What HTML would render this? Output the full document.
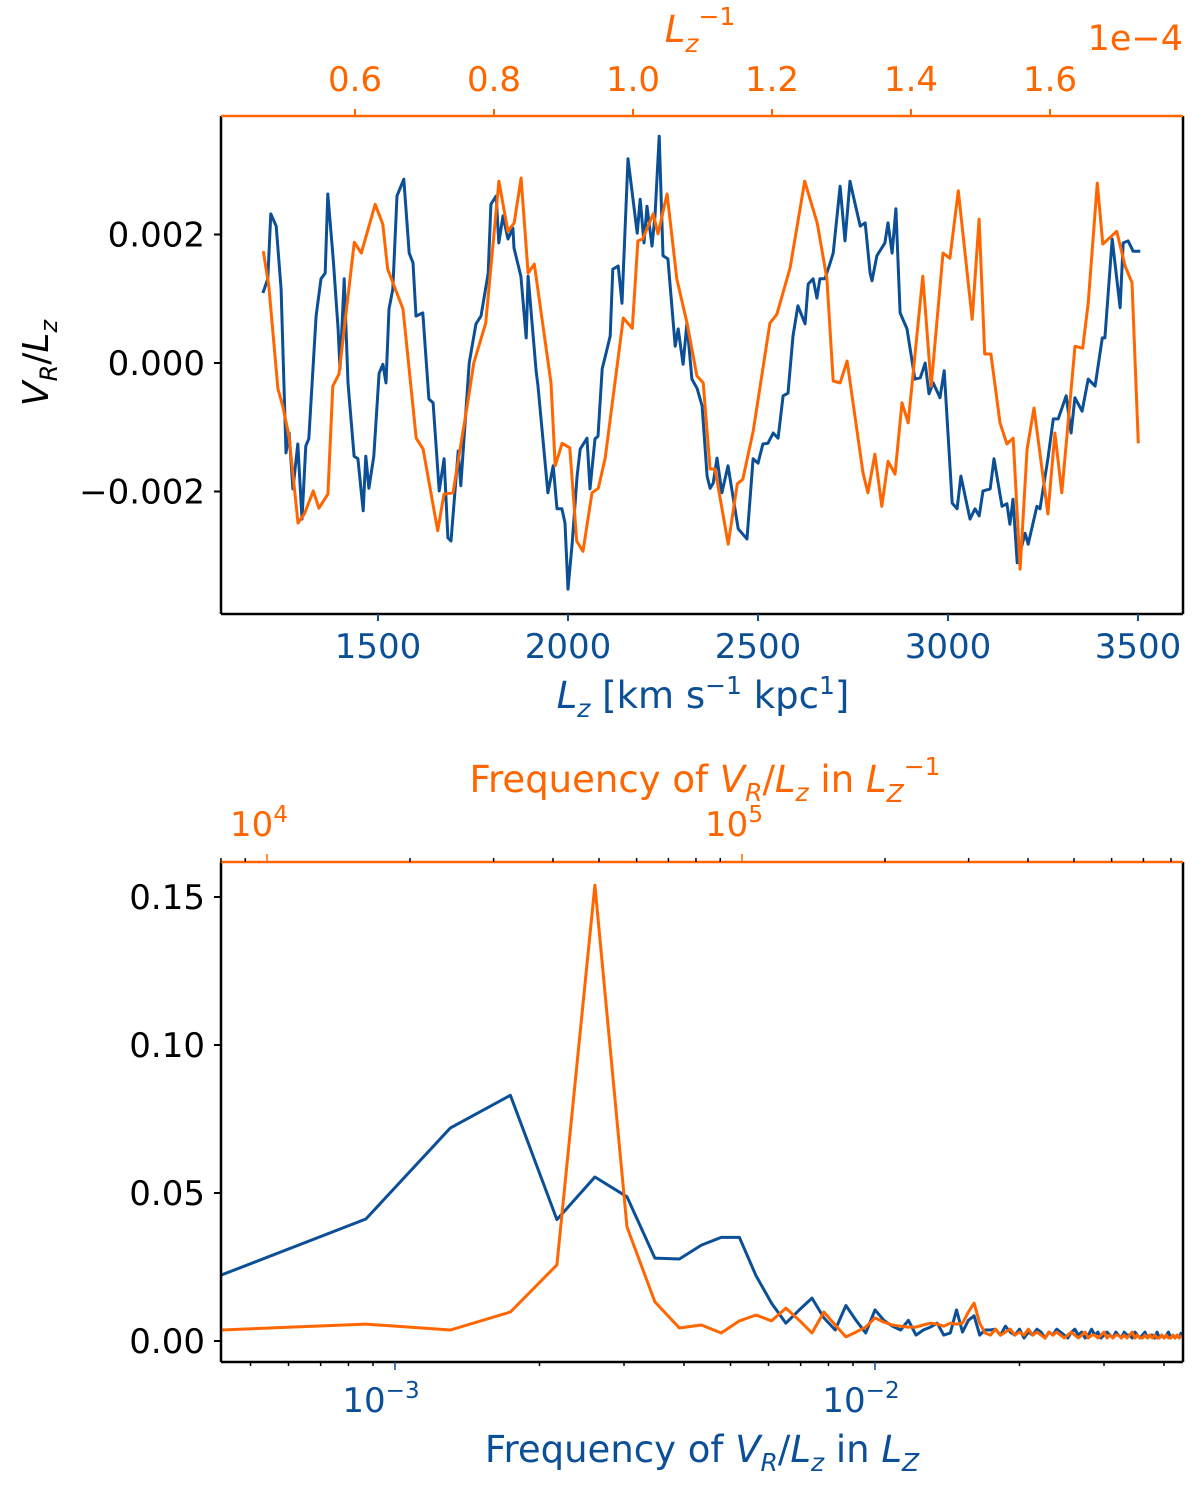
<!DOCTYPE html>
<html><head><meta charset="utf-8"><style>
body{margin:0;background:#fff;}
svg{display:block;font-family:"DejaVu Sans","Liberation Sans",sans-serif;}
</style></head><body>
<svg id="fig" width="1200" height="1491" viewBox="0 0 1200 1491" xmlns="http://www.w3.org/2000/svg">
<rect width="1200" height="1491" fill="#fff"/>
<g id="topPanel"></g>
<g id="botPanel"></g>
<text transform="translate(48,363) rotate(-90)" text-anchor="middle" font-size="36" fill="#000"><tspan font-style="italic">V</tspan><tspan font-style="italic" font-size="24" dy="9">R</tspan><tspan dy="-9">/</tspan><tspan font-style="italic">L</tspan><tspan font-style="italic" font-size="24" dy="9">z</tspan></text>
<text x="703" y="708" text-anchor="middle" font-size="37" fill="#0b4f96"><tspan font-style="italic">L</tspan><tspan font-style="italic" font-size="25" dy="9">z</tspan><tspan dy="-9"> [km s</tspan><tspan font-size="25" dy="-14">−1</tspan><tspan dy="14"> kpc</tspan><tspan font-size="25" dy="-14">1</tspan><tspan dy="14">]</tspan></text>
<text x="700" y="42" text-anchor="middle" font-size="37" fill="#ff6600"><tspan font-style="italic">L</tspan><tspan font-style="italic" font-size="25" dy="10">z</tspan><tspan font-size="25" dy="-27">−1</tspan></text>
<text x="1183" y="50" text-anchor="end" font-size="35" fill="#ff6600">1e−4</text>
<text x="705" y="792" text-anchor="middle" font-size="37" fill="#ff6600">Frequency of <tspan font-style="italic">V</tspan><tspan font-style="italic" font-size="25" dy="9">R</tspan><tspan dy="-9">/</tspan><tspan font-style="italic">L</tspan><tspan font-style="italic" font-size="25" dy="9">z</tspan><tspan dy="-9"> in </tspan><tspan font-style="italic">L</tspan><tspan font-style="italic" font-size="25" dy="10">Z</tspan><tspan font-size="25" dy="-27">−1</tspan></text>
<text x="702" y="1462" text-anchor="middle" font-size="37" fill="#0b4f96">Frequency of <tspan font-style="italic">V</tspan><tspan font-style="italic" font-size="25" dy="9">R</tspan><tspan dy="-9">/</tspan><tspan font-style="italic">L</tspan><tspan font-style="italic" font-size="25" dy="9">z</tspan><tspan dy="-9"> in </tspan><tspan font-style="italic">L</tspan><tspan font-style="italic" font-size="25" dy="9">Z</tspan></text>
</svg>
<script>
// ---------- TOP PANEL DATA ----------
const blueLz = [1197,1210,1218,1232,1245,1258,1266,1276,1289,1300,1310,1318,1337,1350,1361,1368,1382,1395,1400,1411,1421,1437,1447,1461,1468,1476,1489,1503,1513,1521,1529,1539,1550,1568,1582,1592,1600,1618,1634,1645,1661,1674,1684,1692,1711,1718,1740,1758,1771,1790,1797,1811,1818,1829,1842,1855,1858,1876,1890,1895,1916,1921,1947,1961,1971,1984,1992,2000,2011,2024,2032,2050,2058,2071,2079,2090,2103,2111,2118,2132,2142,2158,2182,2190,2200,2208,2221,2229,2240,2250,2263,2282,2290,2303,2313,2326,2340,2353,2366,2374,2382,2392,2405,2421,2434,2448,2471,2487,2500,2513,2526,2540,2553,2566,2579,2592,2605,2624,2632,2645,2655,2663,2676,2690,2698,2716,2729,2742,2755,2769,2782,2795,2800,2813,2834,2842,2853,2863,2874,2892,2913,2927,2940,2950,2961,2979,2990,3011,3024,3034,3058,3071,3082,3092,3111,3121,3142,3155,3163,3171,3182,3203,3211,3234,3242,3263,3277,3290,3311,3324,3334,3353,3369,3387,3406,3413,3432,3453,3461,3474,3487,3506];
const blueVR = [1.09,1.31,2.32,2.13,1.15,-1.40,-1.09,-1.96,-1.26,-2.43,-1.29,-1.18,0.73,1.31,1.40,2.63,1.62,0.53,-0.09,1.31,-0.31,-1.45,-1.49,-2.30,-1.45,-1.95,-1.45,-0.16,-0.02,-0.31,0.84,1.15,2.60,2.86,1.71,1.56,0.73,0.78,-0.56,-0.62,-1.99,-1.49,-2.72,-2.77,-1.37,-1.91,0,0.61,0.73,1.40,2.47,2.60,1.87,2.29,1.93,2.10,1.79,1.35,0.39,1.35,-0.12,-0.36,-2.02,-1.60,-2.27,-2.27,-2.49,-3.52,-2.80,-1.76,-1.34,-1.17,-1.96,-1.18,-1.14,-0.09,0.22,0.42,1.46,1.51,0.93,3.18,2.02,2.55,1.87,2.44,1.82,2.29,3.53,1.67,1.62,0.26,0.53,-0.02,0.62,-0.25,-0.40,-0.67,-1.76,-1.95,-1.87,-1.48,-2.02,-1.60,-2.07,-2.58,-2.74,-1.49,-1.56,-1.26,-1.25,-1.09,-1.17,-0.51,-0.47,0.42,0.89,0.61,1.23,1.31,1.01,1.31,1.31,1.56,1.71,2.75,1.90,2.83,2.49,2.13,2.18,1.40,1.28,1.67,1.87,2.18,1.71,2.40,0.78,0.53,-0.25,-0.23,0,-0.48,-0.31,-0.54,-0.12,-2.18,-2.27,-1.76,-2.43,-2.27,-2.38,-1.99,-1.96,-1.49,-2.23,-2.19,-2.51,-2.12,-3.11,-2.65,-2.82,-2.23,-2.27,-1.49,-0.87,-0.87,-0.51,-1.09,-0.54,-0.75,-0.25,-0.36,0.39,0.39,1.93,0.86,1.87,1.90,1.74,1.74];
const orangeInvLz = [0.468,0.476,0.489,0.496,0.505,0.518,0.527,0.540,0.548,0.561,0.568,0.577,0.599,0.609,0.629,0.640,0.647,0.669,0.688,0.698,0.719,0.728,0.741,0.763,0.771,0.788,0.807,0.820,0.829,0.839,0.849,0.858,0.882,0.888,0.898,0.909,0.919,0.928,0.941,0.950,0.960,0.986,0.999,1.007,1.014,1.029,1.036,1.049,1.063,1.078,1.092,1.101,1.111,1.118,1.137,1.150,1.158,1.173,1.197,1.207,1.226,1.247,1.265,1.279,1.288,1.298,1.308,1.331,1.338,1.348,1.358,1.367,1.377,1.387,1.396,1.417,1.429,1.446,1.456,1.468,1.488,1.498,1.506,1.515,1.528,1.538,1.547,1.557,1.567,1.577,1.597,1.607,1.617,1.636,1.647,1.655,1.668,1.676,1.696,1.708,1.718,1.727];
const orangeVR = [1.74,1.20,-0.40,-0.67,-1.14,-2.49,-2.35,-1.99,-2.26,-2.04,-0.36,-0.17,1.88,1.71,2.47,2.16,1.46,0.84,-1.17,-1.34,-2.61,-2.04,-2.02,-0.56,0,0.62,2.83,2.05,2.18,2.88,1.40,1.54,-0.31,-1.60,-1.25,-1.32,-2.77,-2.93,-2.02,-1.95,-1.48,0.70,0.54,1.90,1.93,2.32,2.01,2.63,1.31,0.61,-0.20,-0.31,-1.65,-1.65,-2.82,-1.88,-1.81,-1.06,0.62,0.76,1.48,2.83,2.18,1.31,-0.28,-0.31,0.03,-1.71,-2.02,-1.42,-2.23,-1.53,-1.73,-0.62,-0.93,1.35,-0.36,1.71,1.63,2.68,0.68,2.24,0.14,0.14,-0.93,-1.26,-1.17,-3.21,-1.34,-0.70,-2.35,-1.09,-2.02,0.26,0.23,0.93,2.80,1.85,2.05,1.51,1.25,-1.25];
const topYTicks = [0.002,0,-0.002];
const topYTickLabels = ["0.002","0.000","−0.002"];
const topXTicks = [1500,2000,2500,3000,3500];
const topX2Ticks = [0.6,0.8,1.0,1.2,1.4,1.6];

// ---------- BOTTOM PANEL DATA ----------
const binWidth = 1/2300;
const blueAmp = [0.0223,0.0412,0.072,0.083,0.041,0.0554,0.0487,0.028,0.0277,0.0324,0.035,0.035,0.022,0.0128,0.006,0.0105,0.0145,0.0078,0.0037,0.012,0.007,0.0027,0.0105,0.007,0.005,0.0037,0.007,0.002,0.0037,0.0047,0.006,0.002,0.0027,0.0105,0.003,0.007,0.0085,0.002,0.0037,0.0037,0.004,0.002,0.005,0.003,0.002,0.004,0.001,0.003,0.002,0.004,0.003,0.001,0.003,0.002,0.004,0.003,0.002,0.001,0.003,0.004,0.002,0.003,0.001,0.002,0.004,0.002,0.003,0.001,0.002,0.003,0.002,0.001,0.003,0.002,0.001,0.003,0.002,0.002,0.001,0.003,0.002,0.001,0.002,0.003,0.001,0.002,0.002,0.001,0.003,0.001,0.002,0.001,0.002,0.003,0.001,0.002,0.001,0.002,0.001,0.003];
const orangeAmp = [0.0037,0.0057,0.0037,0.0098,0.0257,0.154,0.0385,0.0132,0.0044,0.0054,0.0027,0.0068,0.0088,0.0068,0.0111,0.007,0.0027,0.0098,0.0054,0.0014,0.003,0.0047,0.0078,0.0064,0.0054,0.005,0.0047,0.0047,0.0054,0.006,0.0057,0.005,0.006,0.0057,0.006,0.0098,0.0128,0.006,0.0027,0.002,0.004,0.002,0.003,0.004,0.002,0.003,0.002,0.004,0.002,0.003,0.002,0.001,0.003,0.002,0.003,0.002,0.001,0.002,0.003,0.002,0.001,0.002,0.003,0.001,0.002,0.002,0.001,0.002,0.003,0.001,0.002,0.001,0.002,0.002,0.001,0.002,0.001,0.002,0.003,0.001,0.002,0.001,0.001,0.002,0.001,0.002,0.001,0.002,0.001,0.001,0.002,0.001,0.002,0.001,0.001,0.002,0.001,0.002,0.001,0.002];
const botYTicks = [0.15,0.10,0.05,0.00];
const botYTickLabels = ["0.15","0.10","0.05","0.00"];
const botXTickExps = [-3,-2];
const botX2TickExps = [4,5];

const NS="http://www.w3.org/2000/svg";
const BLUE="#0b4f96", ORANGE="#ff6600";
function mk(tag, attrs, parent){const e=document.createElementNS(NS,tag);for(const k in attrs)e.setAttribute(k,attrs[k]);parent.appendChild(e);return e;}

const T={l:221,r:1183,t:116,b:614};
const tx = v => 378 + (v-1500)*0.38;
const tx2 = v => 355 + (v-0.6)*695;
const ty = v => 363 - v*1000*64.25;
const topG=document.getElementById('topPanel');

function poly(parent, xs, ys, fx, fy, color, name){
  const n=Math.min(xs.length, ys.length);
  let pts=[];for(let i=0;i<n;i++)pts.push(fx(xs[i]).toFixed(1)+","+fy(ys[i]).toFixed(1));
  const p=mk('polyline',{points:pts.join(' '),fill:'none',stroke:color,'stroke-width':3,'stroke-linejoin':'round'},parent);
  
  
  return p;
}
const topClip=mk('clipPath',{id:'tc'},topG);mk('rect',{x:T.l,y:T.t,width:T.r-T.l,height:T.b-T.t},topClip);
const tlines=mk('g',{'clip-path':'url(#tc)'},topG);
poly(tlines, blueLz, blueVR.map(v=>v/1000), tx, ty, BLUE, 'blue-series-line');
poly(tlines, orangeInvLz, orangeVR.map(v=>v/1000), tx2, ty, ORANGE, 'orange-series-line');

let s;
s=mk('line',{x1:T.l,y1:T.t,x2:T.l,y2:T.b,stroke:'#000','stroke-width':2.5},topG);


s=mk('line',{x1:T.r,y1:T.t,x2:T.r,y2:T.b,stroke:'#000','stroke-width':2.5},topG);


s=mk('line',{x1:T.l,y1:T.b,x2:T.r,y2:T.b,stroke:'#000','stroke-width':2.5},topG);


s=mk('line',{x1:T.l,y1:T.t,x2:T.r,y2:T.t,stroke:ORANGE,'stroke-width':2.5},topG);



topYTicks.forEach((v,i)=>{
  mk('line',{x1:T.l-7,y1:ty(v),x2:T.l,y2:ty(v),stroke:'#000','stroke-width':2},topG);
  const t=mk('text',{x:T.l-16,y:ty(v)+12,'text-anchor':'end','font-size':34,fill:'#000'},topG);
  t.textContent=topYTickLabels[i];
  
  
});
topXTicks.forEach(v=>{
  mk('line',{x1:tx(v),y1:T.b,x2:tx(v),y2:T.b+7,stroke:BLUE,'stroke-width':2},topG);
  const t=mk('text',{x:tx(v),y:T.b+44,'text-anchor':'middle','font-size':34,fill:BLUE},topG);
  t.textContent=String(v);
  
  
});
topX2Ticks.forEach(v=>{
  mk('line',{x1:tx2(v),y1:T.t-7,x2:tx2(v),y2:T.t,stroke:ORANGE,'stroke-width':2},topG);
  const t=mk('text',{x:tx2(v),y:T.t-25,'text-anchor':'middle','font-size':34,fill:ORANGE},topG);
  t.textContent=v.toFixed(1);
  
  
});

const B={l:221,r:1183,t:862,b:1362};
const bx = f => 395 + (Math.log10(f)+3)*480;
const bx2 = e => 267 + (e-4)*475;
const by = v => 1341 - v*2960;
const botG=document.getElementById('botPanel');
const botClip=mk('clipPath',{id:'bc'},botG);mk('rect',{x:B.l,y:B.t,width:B.r-B.l,height:B.b-B.t},botClip);
const blines=mk('g',{'clip-path':'url(#bc)'},botG);
const freqs = blueAmp.map((_,i)=>(i+1)*binWidth);
poly(blines, freqs, blueAmp, bx, by, BLUE, 'blue-spectrum-line');
poly(blines, freqs, orangeAmp, bx, by, ORANGE, 'orange-spectrum-line');

s=mk('line',{x1:B.l,y1:B.t,x2:B.l,y2:B.b,stroke:'#000','stroke-width':2.5},botG);


s=mk('line',{x1:B.r,y1:B.t,x2:B.r,y2:B.b,stroke:'#000','stroke-width':2.5},botG);


s=mk('line',{x1:B.l,y1:B.b,x2:B.r,y2:B.b,stroke:'#000','stroke-width':2.5},botG);


s=mk('line',{x1:B.l,y1:B.t,x2:B.r,y2:B.t,stroke:ORANGE,'stroke-width':2.5},botG);



botYTicks.forEach((v,i)=>{
  mk('line',{x1:B.l-7,y1:by(v),x2:B.l,y2:by(v),stroke:'#000','stroke-width':2},botG);
  const t=mk('text',{x:B.l-16,y:by(v)+12,'text-anchor':'end','font-size':34,fill:'#000'},botG);
  t.textContent=botYTickLabels[i];
  
  
});
for(let e=-4;e<=-1;e++)for(let m=1;m<10;m++){
  const x=bx(m*Math.pow(10,e));if(x<B.l||x>B.r)continue;
  const L=m===1?8:4;
  mk('line',{x1:x,y1:B.b,x2:x,y2:B.b+L,stroke:m===1?BLUE:'#000','stroke-width':1.5},botG);
}
botXTickExps.forEach(e=>{
  const t=mk('text',{x:bx(Math.pow(10,e))-14,y:B.b+50,'text-anchor':'middle','font-size':34,fill:BLUE},botG);
  t.innerHTML='10<tspan font-size="23" dy="-14">−'+Math.abs(e)+'</tspan>';
  
  
});
for(let e=3;e<=5;e++)for(let m=1;m<10;m++){
  const x=bx2(e+Math.log10(m));if(x<B.l-1||x>B.r)continue;
  const L=m===1?8:4;
  mk('line',{x1:x,y1:B.t-L,x2:x,y2:B.t,stroke:m===1?ORANGE:'#000','stroke-width':1.5},botG);
}
botX2TickExps.forEach(e=>{
  const t=mk('text',{x:bx2(e)-8,y:B.t-26,'text-anchor':'middle','font-size':34,fill:ORANGE},botG);
  t.innerHTML='10<tspan font-size="23" dy="-14">'+e+'</tspan>';
  
  
});
</script>
</body></html>
